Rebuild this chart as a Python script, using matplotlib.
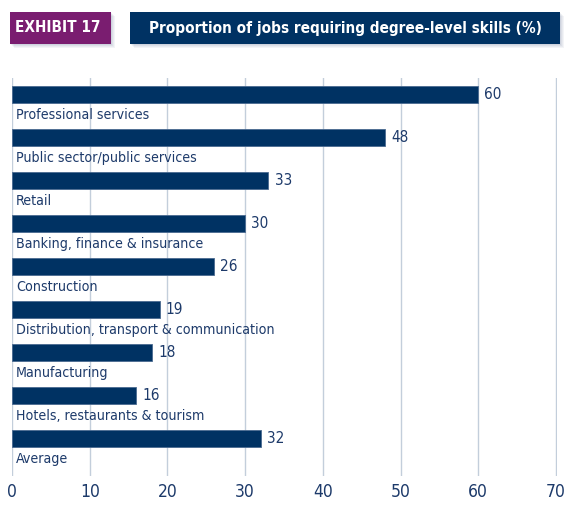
import matplotlib
matplotlib.use('Agg')
import matplotlib.pyplot as plt
from matplotlib.patches import Rectangle

categories = ['Professional services', 'Public sector/public services', 'Retail',
              'Banking, finance & insurance', 'Construction',
              'Distribution, transport & communication', 'Manufacturing',
              'Hotels, restaurants & tourism', 'Average']
values = [60, 48, 33, 30, 26, 19, 18, 16, 32]
xticks = [0, 10, 20, 30, 40, 50, 60, 70]

navy = '#003263'
text_col = '#1d3a6a'
grid_col = '#c3cedb'
purple = '#7a1d70'

plt.rcParams['font.family'] = ['DejaVu Sans']
plt.rcParams['font.stretch'] = 'condensed'

W, H = 567, 516
fig = plt.figure(figsize=(W / 100, H / 100), dpi=100)

def fx(px):
    return px / W

def fy(py):
    return 1 - py / H

ax = fig.add_axes([fx(12), fy(476), fx(557) - fx(12), fy(78) - fy(476)])

pos = list(range(len(categories)))
ax.barh(pos, values, height=0.4, color=navy, edgecolor='#4a6a90', linewidth=0.6, zorder=2)
ax.set_ylim(8.87, -0.38)
ax.set_xlim(0, 70.13)

for p, name, v in zip(pos, categories, values):
    ax.text(0.5, p + 0.47, name, ha='left', va='center', fontsize=10.2, color=text_col)
    ax.text(v + 0.8, p, str(v), ha='left', va='center', fontsize=11, color=text_col)

ax.set_xticks(xticks)
ax.set_yticks([])
ax.grid(axis='x', color=grid_col, linewidth=1, zorder=0)
ax.tick_params(axis='x', length=0, labelsize=12.5, labelcolor=text_col, pad=5)
for s in ax.spines.values():
    s.set_visible(False)

# header boxes with a soft drop shadow
def header_box(x0, x1, color):
    for i, a in enumerate([0.05, 0.05, 0.06, 0.07]):
        off = 4 - i
        fig.patches.append(Rectangle((fx(x0 + off), fy(44 + off)), fx(x1) - fx(x0),
                                     fy(12) - fy(44), transform=fig.transFigure,
                                     color='#1d3a6a', alpha=a, lw=0, zorder=0))
    fig.patches.append(Rectangle((fx(x0), fy(44)), fx(x1) - fx(x0), fy(12) - fy(44),
                                 transform=fig.transFigure, color=color, lw=0, zorder=1))

header_box(10, 111, purple)
header_box(130, 560, navy)
fig.text(fx(58), fy(28), 'EXHIBIT 17', ha='center', va='center', color='white',
         fontsize=11, fontweight='bold')
fig.text(fx(345), fy(28), 'Proportion of jobs requiring degree-level skills (%)',
         ha='center', va='center', color='white', fontsize=11, fontweight='bold')

fig.savefig('out.png', dpi=100)
